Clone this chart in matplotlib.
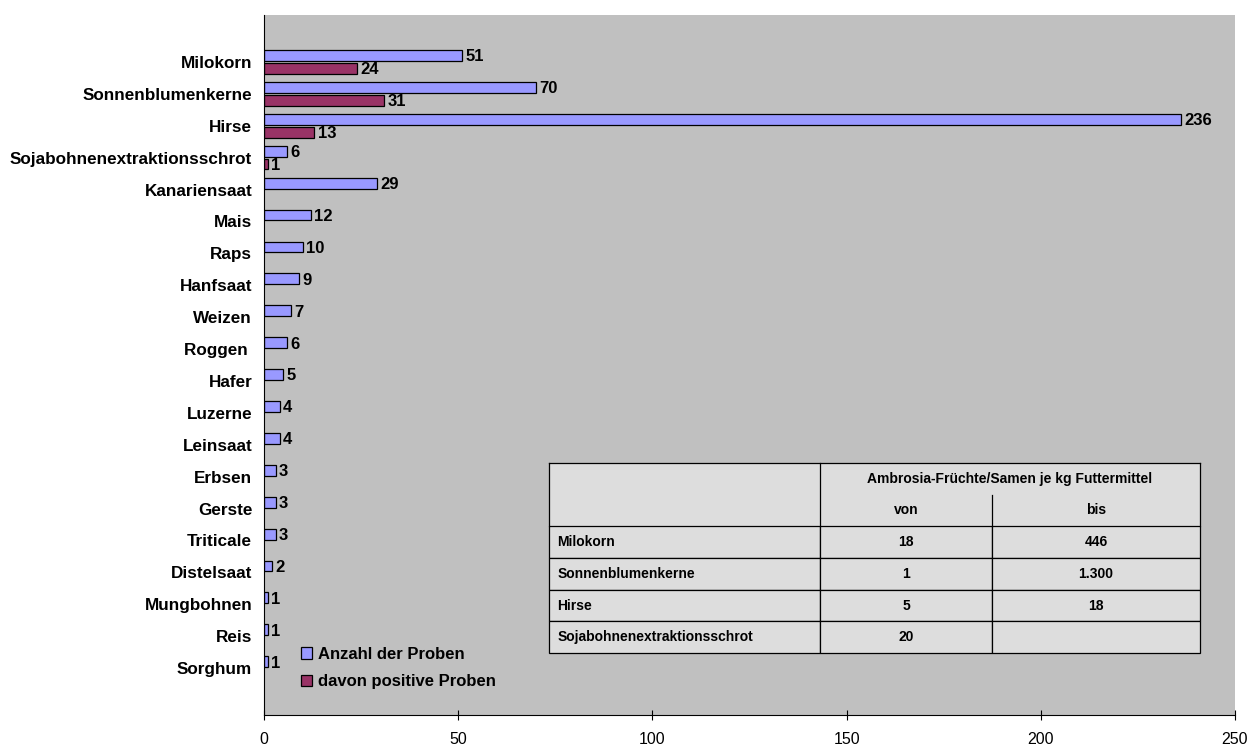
import numpy as np
import matplotlib.pyplot as plt
from matplotlib.lines import Line2D

plt.rcParams['font.family'] = ['Liberation Sans', 'DejaVu Sans']

# Futtermittel und Anzahl der Proben
kategorien = ['Milokorn', 'Sonnenblumenkerne', 'Hirse', 'Sojabohnenextraktionsschrot',
              'Kanariensaat', 'Mais', 'Raps', 'Hanfsaat', 'Weizen', 'Roggen ', 'Hafer',
              'Luzerne', 'Leinsaat', 'Erbsen', 'Gerste', 'Triticale', 'Distelsaat',
              'Mungbohnen', 'Reis', 'Sorghum']
anzahl = [51, 70, 236, 6, 29, 12, 10, 9, 7, 6, 5, 4, 4, 3, 3, 3, 2, 1, 1, 1]
positiv = [24, 31, 13, 1]

# Tabelle: Ambrosia-Samen je kg
tab_namen = ['Milokorn', 'Sonnenblumenkerne', 'Hirse', 'Sojabohnenextraktionsschrot']
tab_von = ['18', '1', '5', '20']
tab_bis = ['446', '1.300', '18', '']
tab_titel = 'Ambrosia-Früchte/Samen je kg Futtermittel'

blau = '#9999FF'
rot = '#993366'

fig = plt.figure(figsize=(12.51, 7.49), dpi=100)
ax = fig.add_axes([264/1251, 34/749, 971/1251, 700/749])
ax.set_facecolor('#C0C0C0')

y = np.arange(len(kategorien))
h = 0.34
b1 = ax.barh(y - 0.2, anzahl, height=h, color=blau, edgecolor='black', linewidth=0.9,
             label='Anzahl der Proben')
yp = np.arange(len(positiv))
b2 = ax.barh(yp + 0.2, positiv, height=h, color=rot, edgecolor='black', linewidth=0.9,
             label='davon positive Proben')

for bars, vals in ((b1, anzahl), (b2, positiv)):
    for r, v in zip(bars, vals):
        ax.annotate(str(v), (r.get_width(), r.get_y() + r.get_height() / 2),
                    xytext=(2.5, -1), textcoords='offset points', va='center', ha='left',
                    fontsize=12, fontweight='bold')

ax.set_xlim(0, 250)
ax.set_xticks([0, 50, 100, 150, 200, 250])
ax.set_ylim(19 + 1.47, -1.47)
ax.set_yticks(y)
ax.set_yticklabels(kategorien, fontsize=12.3, fontweight='bold')
ax.tick_params(axis='y', length=0, pad=8.5)
ax.tick_params(axis='x', length=7, labelsize=11.5, direction='inout', pad=9)
for s in ('top', 'right'):
    ax.spines[s].set_visible(False)

leg = ax.legend(loc='upper left', bbox_to_anchor=(30/971, 75/700), frameon=False,
                fontsize=12, handlelength=0.7, handleheight=0.7, handletextpad=0.35,
                labelspacing=0.75, borderaxespad=0)
for t in leg.get_texts():
    t.set_fontweight('bold')

# Tabelle im Diagramm
zellen = [['', '', ''], ['', 'von', 'bis']] + \
    [[n, a, b] for n, a, b in zip(tab_namen, tab_von, tab_bis)]
breiten = [271/651, 172/651, 208/651]
x0, x1 = (549 - 264) / 971, (1200 - 264) / 971
ytop, ybot = (715 - 463) / 700, (715 - 653) / 700
tab = ax.table(cellText=zellen, colWidths=breiten,
               bbox=[x0, ybot, x1 - x0, ytop - ybot], cellLoc='center')
tab.auto_set_font_size(False)
for (r, c), cell in tab.get_celld().items():
    cell.set_facecolor('#DDDDDD')
    cell.set_linewidth(0.9)
    txt = cell.get_text()
    txt.set_fontsize(10)
    txt.set_fontweight('bold')
    if r < 2:
        cell.set_edgecolor('#DDDDDD')
        cell.set_linewidth(0)
    if c == 0 and r >= 2:
        cell._loc = 'left'
        cell.PAD = 0.03
        txt.set_ha('left')

# Linien des zweizeiligen Kopfes
zh = (ytop - ybot) / 6
xa = x0 + breiten[0] * (x1 - x0)
xb = x0 + (breiten[0] + breiten[1]) * (x1 - x0)
kopf = [([x0, x1], [ytop, ytop]), ([x0, x0], [ytop, ytop - 2 * zh]),
        ([x1, x1], [ytop, ytop - 2 * zh]), ([xa, xa], [ytop, ytop - 2 * zh]),
        ([xb, xb], [ytop - zh, ytop - 2 * zh])]
for xs, ys in kopf:
    ax.add_line(Line2D(xs, ys, transform=ax.transAxes, color='black', lw=0.9,
                       zorder=11, clip_on=False))
xm = (xa + x1) / 2
ax.text(xm, ytop - zh / 2, tab_titel, transform=ax.transAxes,
        ha='center', va='center', fontsize=10, fontweight='bold', zorder=12)

fig.savefig('out.png', dpi=100)
